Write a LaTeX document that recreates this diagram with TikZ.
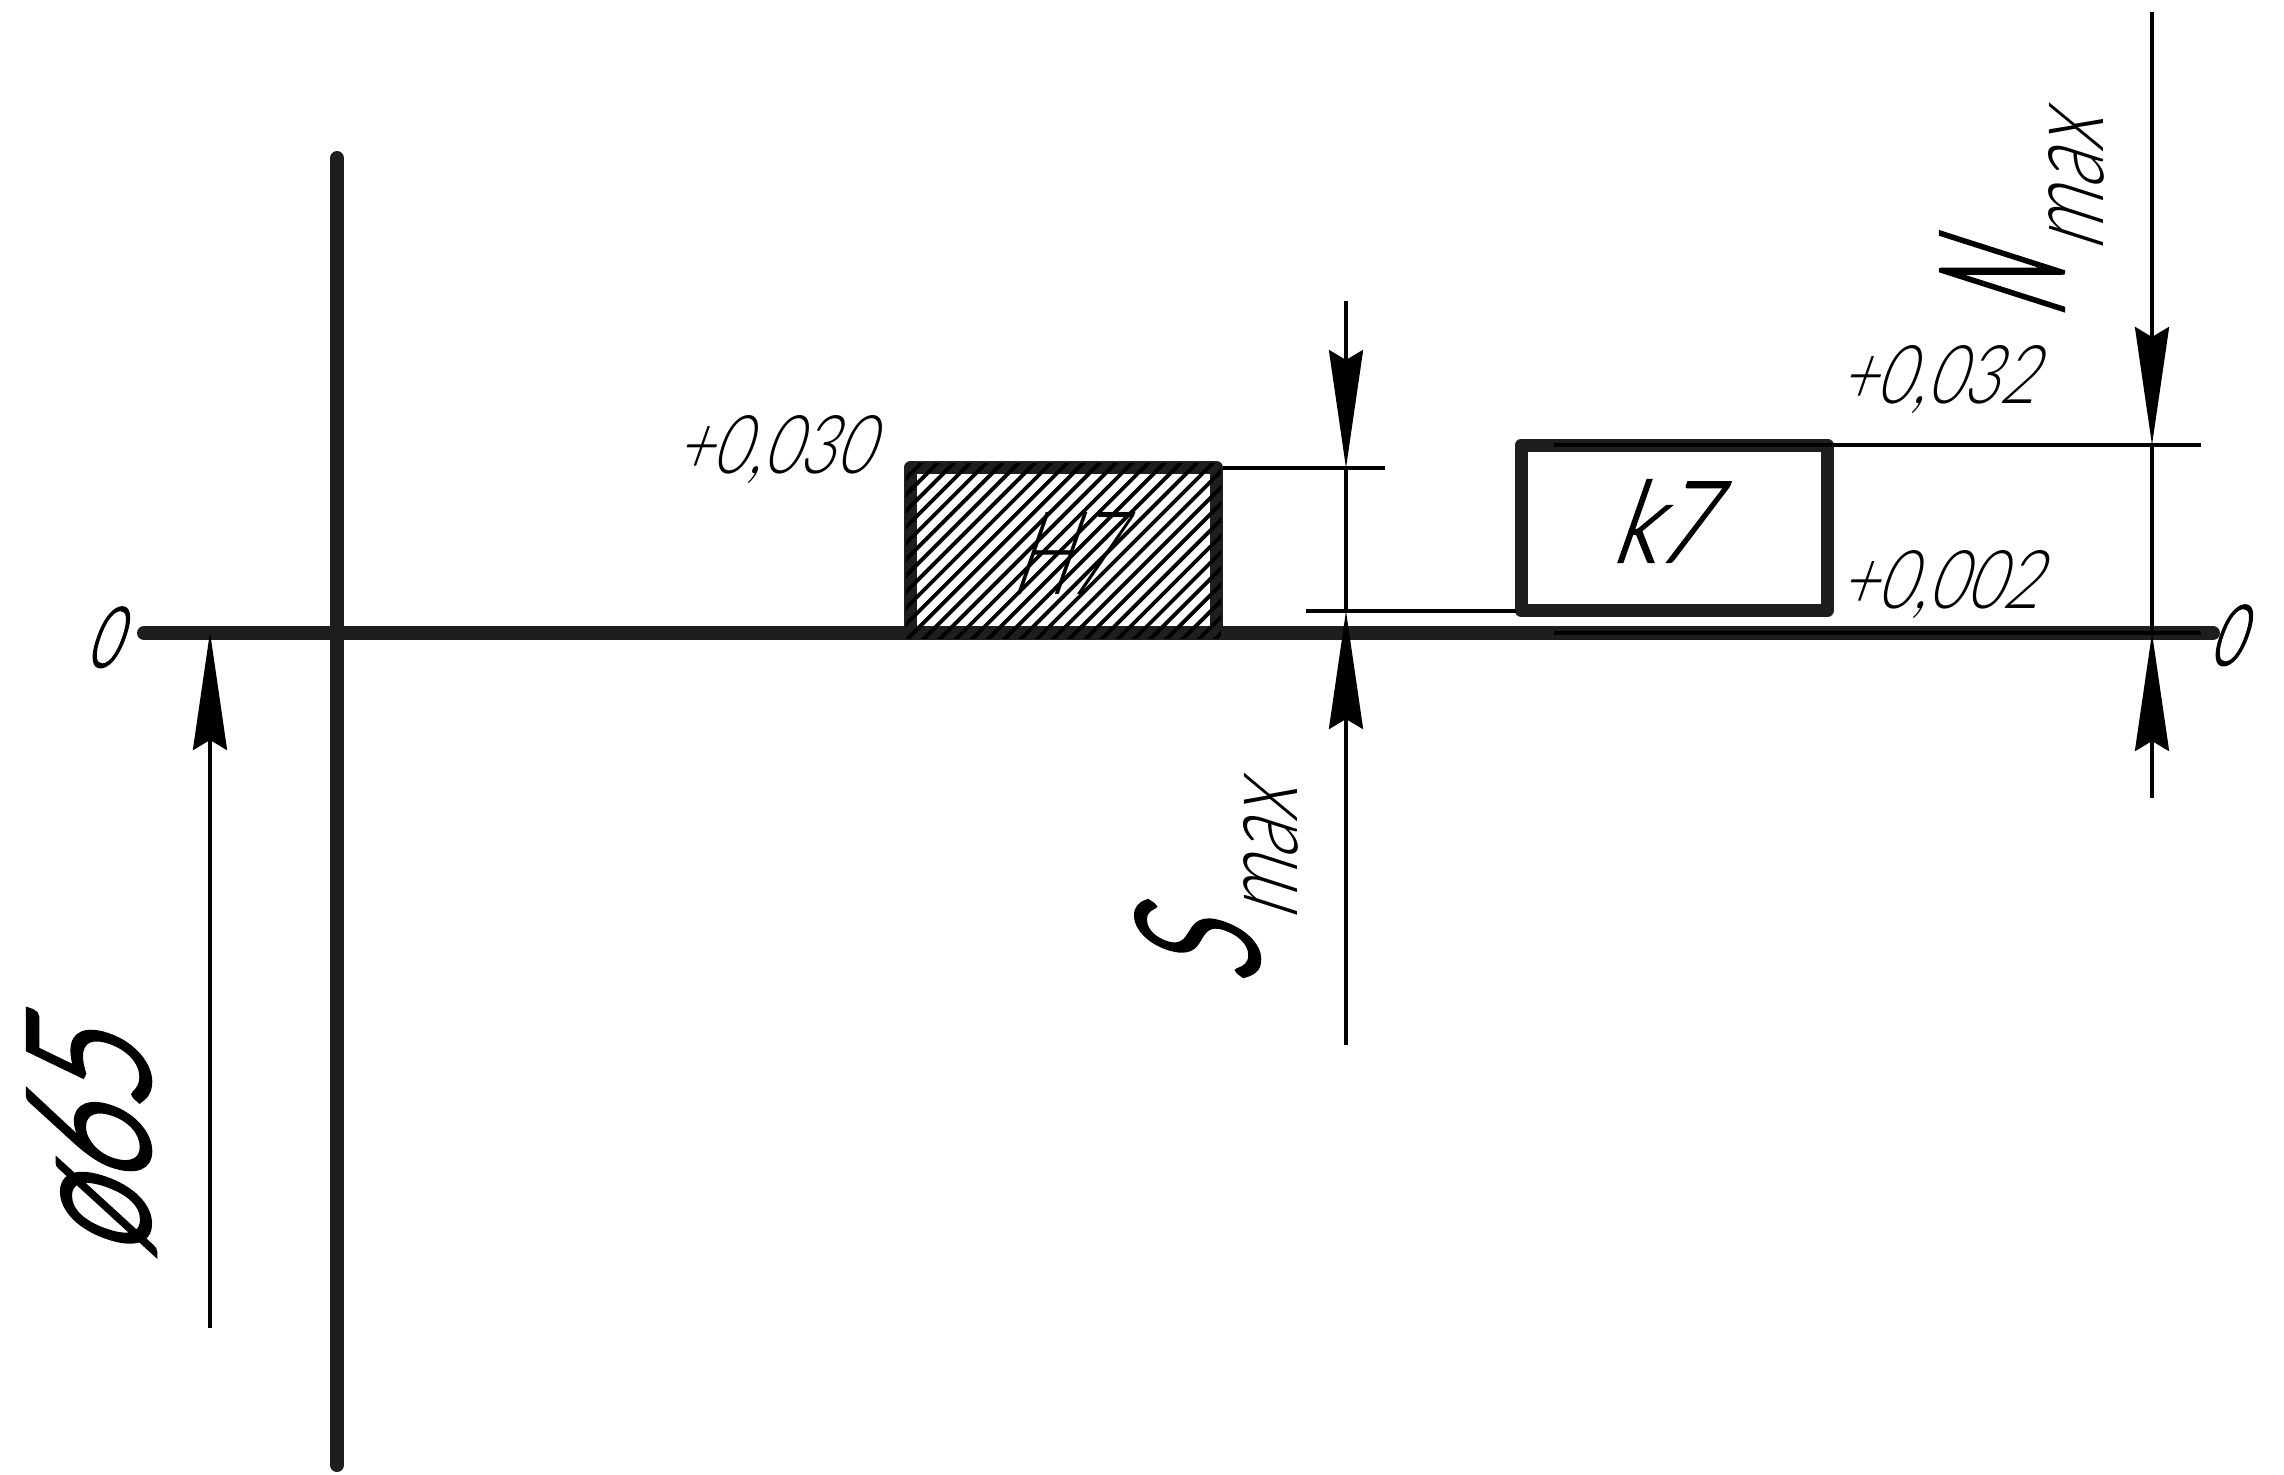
\documentclass[tikz,border=0pt]{standalone}
\usepackage{fontspec}
\usepackage{graphicx}
\usetikzlibrary{arrows.meta}
\newfontfamily\gost[UprightFont=* Light]{Lato}
\newfontfamily\gostb[UprightFont=* Light,UprightFeatures={FakeBold=2}]{Lato}
\newfontfamily\gostc[UprightFont=* Light,UprightFeatures={FakeBold=3.5}]{Lato}
\newcommand{\fitt}[3]{\resizebox{#1pt}{#2pt}{\gost #3}}
\newcommand{\fittb}[3]{\resizebox{#1pt}{#2pt}{\gostb #3}}
\newcommand{\fittc}[3]{\resizebox{#1pt}{#2pt}{\gostc #3}}
\definecolor{ink}{HTML}{1E1E1E}
\tikzset{
  x=1pt,y=-1pt,
  heavy/.style={draw=ink,line width=14pt,line cap=round},
  boxline/.style={draw=ink,line width=13pt,line join=round,inner sep=0pt,outer sep=0pt},
  thin ext/.style={draw=black,line width=4pt},
  plainline/.style={draw=black,line width=3.6pt},
  dimline/.style={draw=black,line width=3.6pt,-{Stealth[length=118pt,width=34pt,inset=10pt]}},
  lab/.style={anchor=base west,inner sep=0pt,outer sep=0pt,text=black},
}
\begin{document}
\begin{tikzpicture}
\useasboundingbox (0,0) rectangle (2284,1475);
% axes
\coordinate (ml) at (144,633); \coordinate (mr) at (2213,633);
\coordinate (vt) at (337,158); \coordinate (vb) at (337,1465);
\draw[heavy] (ml) -- (mr);
\draw[heavy] (vt) -- (vb);
% tolerance fields
\node[boxline,minimum width=306pt,minimum height=165pt] (h7box) at (1063.5,550) {};
\node[boxline,minimum width=306.5pt,minimum height=165.5pt] (k7box) at (1674.25,527.75) {};
\begin{scope}
\clip (906,463) rectangle (1221,638);
\foreach \i in {0,...,33}{
  \draw[black,line width=3.8pt] (702+16.2*\i,650) -- ++(200,-200);
}
\end{scope}
% extension lines
\coordinate (e1a) at (1223,468); \coordinate (e1b) at (1385,468);
\coordinate (e2a) at (1306,611); \coordinate (e2b) at (1516,611);
\coordinate (e3a) at (1554,445); \coordinate (e3b) at (2201,445);
\coordinate (e4a) at (1554,633); \coordinate (e4b) at (2201,633);
\draw[thin ext] (e1a) -- (e1b);
\draw[thin ext] (e2a) -- (e2b);
\draw[thin ext] (e3a) -- (e3b);
\draw[thin ext] (e4a) -- (e4b);
% dimension lines
\coordinate (d0s) at (210,1328); \coordinate (d0t) at (210,632);
\coordinate (d1s) at (1346,301); \coordinate (d1t) at (1346,468);
\coordinate (d2s) at (1346,1045); \coordinate (d2t) at (1346,611);
\coordinate (d3s) at (2152,12); \coordinate (d3t) at (2152,445);
\coordinate (d4s) at (2152,798); \coordinate (d4t) at (2152,633);
\draw[dimline] (d0s) -- (d0t);
\draw[dimline] (d1s) -- (d1t);
\draw[dimline] (d2s) -- (d2t);
\draw[dimline] (d3s) -- (d3t);
\draw[dimline] (d4s) -- (d4t);
\draw[plainline] (d1t) -- (d2t);
\draw[plainline] (d3t) -- (d4t);
% labels
\node[lab,xslant=.35,transform shape] (zl) at (85,667) {\fittb{32}{60}{0}};
\node[lab,xslant=.35,transform shape] (zr) at (2208,665) {\fittb{32}{60}{0}};
\node[lab,xslant=.35,transform shape] (t1) at (674,473) {\fitt{197}{58}{+0,030}};
\node[lab,xslant=.35,transform shape] (t2) at (1838,403) {\fitt{197}{58}{+0,032}};
\node[lab,xslant=.35,transform shape] (t3) at (1838,608) {\fitt{201}{58}{+0,002}};
\node[lab,xslant=.35,transform shape] (h7) at (1009,594) {\fitt{102}{82}{H7}};
\node[lab,xslant=.35,transform shape] (k7) at (1611,562) {\fittb{96}{82}{k7}};
\node[lab,rotate=90,xslant=.35,transform shape] (phi) at (148,1258) {\fittc{219}{119}{ø65}};
\node[lab,rotate=90,xslant=.32,transform shape] (smax) at (1257,985) {\fittc{57}{120}{S}\kern19pt\raisebox{-40pt}{\fitt{134}{54}{max}}};
\node[lab,rotate=90,xslant=.32,transform shape] (nmax) at (2062,318) {\fittc{55}{120}{N}\kern24pt\raisebox{-41pt}{\fitt{134}{55}{max}}};
\end{tikzpicture}
\end{document}
